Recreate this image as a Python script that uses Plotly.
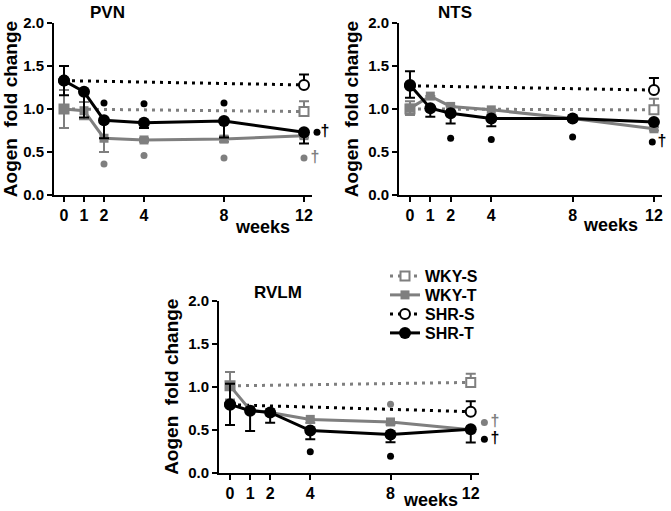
import plotly.graph_objects as go

weeks = [0, 1, 2, 4, 8, 12]
s_weeks = [0, 12]
x_ticks = [0, 1, 2, 4, 8, 12]
y_ticks = [0.0, 0.5, 1.0, 1.5, 2.0]
y_tick_labels = ["0.0", "0.5", "1.0", "1.5", "2.0"]
series_names = ["WKY-S", "WKY-T", "SHR-S", "SHR-T"]
panel_titles = ["PVN", "NTS", "RVLM"]

# PVN
pvn_wky_s = [1.0, 0.97]
pvn_wky_s_up = [0, 0.12]
pvn_shr_s = [1.33, 1.28]
pvn_shr_s_up = [0, 0.12]
pvn_wky_t = [1.0, 0.98, 0.66, 0.64, 0.65, 0.69]
pvn_wky_t_up = [0.22, 0.10, 0.0, 0.02, 0.03, 0.02]
pvn_wky_t_dn = [0.22, 0.10, 0.16, 0.02, 0.03, 0.02]
pvn_shr_t = [1.33, 1.20, 0.87, 0.84, 0.86, 0.73]
pvn_shr_t_up = [0.17, 0, 0, 0, 0, 0]
pvn_shr_t_dn = [0.17, 0.30, 0.21, 0.06, 0.19, 0.13]
pvn_black_dot_x = [2, 4, 8, 12.65]
pvn_black_dot_y = [1.07, 1.06, 1.07, 0.73]
pvn_gray_dot_x = [2, 4, 8, 12]
pvn_gray_dot_y = [0.36, 0.46, 0.43, 0.43]
pvn_black_dag = (13.05, 0.73)
pvn_gray_dag = (12.55, 0.43)

# NTS
nts_wky_s = [1.0, 0.99]
nts_wky_s_up = [0, 0.13]
nts_shr_s = [1.27, 1.22]
nts_shr_s_up = [0, 0.14]
nts_wky_t = [1.01, 1.15, 1.03, 0.99, 0.89, 0.77]
nts_wky_t_up = [0.08, 0, 0, 0, 0.02, 0.02]
nts_wky_t_dn = [0.08, 0, 0, 0, 0.02, 0.02]
nts_shr_t = [1.28, 1.01, 0.95, 0.89, 0.89, 0.85]
nts_shr_t_up = [0.16, 0, 0, 0, 0.02, 0.02]
nts_shr_t_dn = [0.15, 0.10, 0.12, 0.09, 0.02, 0.02]
nts_black_dot_x = [2, 4, 8, 11.92]
nts_black_dot_y = [0.66, 0.645, 0.675, 0.615]
nts_gray_dot_x = []
nts_gray_dot_y = []
nts_black_dag = (12.4, 0.615)
nts_gray_dag = None

# RVLM
rvlm_wky_s = [1.01, 1.05]
rvlm_wky_s_up = [0, 0.10]
rvlm_shr_s = [0.79, 0.71]
rvlm_shr_s_up = [0, 0.12]
rvlm_wky_t = [1.01, 0.73, 0.70, 0.62, 0.59, 0.50]
rvlm_wky_t_up = [0.16, 0, 0, 0, 0, 0]
rvlm_wky_t_dn = [0.16, 0, 0, 0.04, 0.03, 0]
rvlm_shr_t = [0.795, 0.72, 0.70, 0.49, 0.445, 0.505]
rvlm_shr_t_up = [0.24, 0, 0, 0, 0, 0]
rvlm_shr_t_dn = [0.24, 0.235, 0.12, 0.10, 0.09, 0.155]
rvlm_black_dot_x = [4, 8, 12.68]
rvlm_black_dot_y = [0.245, 0.19, 0.39]
rvlm_gray_dot_x = [8, 12.68]
rvlm_gray_dot_y = [0.795, 0.585]
rvlm_black_dag = (13.2, 0.39)
rvlm_gray_dag = (13.2, 0.585)

W, H = 671, 511
FONT = "Arial, Liberation Sans, sans-serif"
GRAY = "#7f7f7f"
BLACK = "#000000"

panels = [
    dict(name="PVN", axpx=54, ppw=20.0, xmin=-0.5, xmax=12.4, xext=13.6, ytop=23, ybot=195,
         wky_s=pvn_wky_s, wky_s_up=pvn_wky_s_up, shr_s=pvn_shr_s, shr_s_up=pvn_shr_s_up,
         wky_t=pvn_wky_t, wky_t_up=pvn_wky_t_up, wky_t_dn=pvn_wky_t_dn,
         shr_t=pvn_shr_t, shr_t_up=pvn_shr_t_up, shr_t_dn=pvn_shr_t_dn,
         bdx=pvn_black_dot_x, bdy=pvn_black_dot_y, gdx=pvn_gray_dot_x, gdy=pvn_gray_dot_y,
         bdag=pvn_black_dag, gdag=pvn_gray_dag,
         title_xy=(107, 12), weeks_xy=(262, 227)),
    dict(name="NTS", axpx=399, ppw=20.33, xmin=-0.54, xmax=12.4, xext=12.84, ytop=23, ybot=195,
         wky_s=nts_wky_s, wky_s_up=nts_wky_s_up, shr_s=nts_shr_s, shr_s_up=nts_shr_s_up,
         wky_t=nts_wky_t, wky_t_up=nts_wky_t_up, wky_t_dn=nts_wky_t_dn,
         shr_t=nts_shr_t, shr_t_up=nts_shr_t_up, shr_t_dn=nts_shr_t_dn,
         bdx=nts_black_dot_x, bdy=nts_black_dot_y, gdx=nts_gray_dot_x, gdy=nts_gray_dot_y,
         bdag=nts_black_dag, gdag=nts_gray_dag,
         title_xy=(455, 12), weeks_xy=(610, 225)),
    dict(name="RVLM", axpx=219, ppw=20.06, xmin=-0.55, xmax=12.4, xext=13.7, ytop=300.7, ybot=472.7,
         wky_s=rvlm_wky_s, wky_s_up=rvlm_wky_s_up, shr_s=rvlm_shr_s, shr_s_up=rvlm_shr_s_up,
         wky_t=rvlm_wky_t, wky_t_up=rvlm_wky_t_up, wky_t_dn=rvlm_wky_t_dn,
         shr_t=rvlm_shr_t, shr_t_up=rvlm_shr_t_up, shr_t_dn=rvlm_shr_t_dn,
         bdx=rvlm_black_dot_x, bdy=rvlm_black_dot_y, gdx=rvlm_gray_dot_x, gdy=rvlm_gray_dot_y,
         bdag=rvlm_black_dag, gdag=rvlm_gray_dag,
         title_xy=(278, 292), weeks_xy=(430, 500)),
]

# legend rows (one legend per series so the row spacing can match)
legend_ids = {"WKY-S": "legend", "WKY-T": "legend2", "SHR-S": "legend3", "SHR-T": "legend4"}
legend_rows_px = {"legend": 276, "legend2": 295, "legend3": 314, "legend4": 333}

fig = go.Figure()
annotations = []
DOT = "3px,5px"
layout_axes = {}

for i, p in enumerate(panels):
    n = "" if i == 0 else str(i + 1)
    ne = str(i + 4)
    xa, ya, xe = "x" + n, "y" + n, "x" + ne
    show = (i == 2)
    # WKY-S
    fig.add_trace(go.Scatter(
        x=s_weeks, y=p["wky_s"], xaxis=xa, yaxis=ya, name="WKY-S", legend=legend_ids["WKY-S"],
        showlegend=show, mode="lines+markers", cliponaxis=False,
        line=dict(color=GRAY, width=3, dash=DOT),
        marker=dict(symbol="square", size=9, color="white", line=dict(width=2, color=GRAY)),
        error_y=dict(type="data", symmetric=False, array=p["wky_s_up"],
                     arrayminus=[0, 0], color=GRAY, thickness=2, width=5)))
    # SHR-S
    fig.add_trace(go.Scatter(
        x=s_weeks, y=p["shr_s"], xaxis=xa, yaxis=ya, name="SHR-S", legend=legend_ids["SHR-S"],
        showlegend=show, mode="lines+markers", cliponaxis=False,
        line=dict(color=BLACK, width=3, dash=DOT),
        marker=dict(symbol="circle", size=10, color="white", line=dict(width=2, color=BLACK)),
        error_y=dict(type="data", symmetric=False, array=p["shr_s_up"],
                     arrayminus=[0, 0], color=BLACK, thickness=2, width=5)))
    # WKY-T
    fig.add_trace(go.Scatter(
        x=weeks, y=p["wky_t"], xaxis=xa, yaxis=ya, name="WKY-T", legend=legend_ids["WKY-T"],
        showlegend=show, mode="lines+markers", cliponaxis=False,
        line=dict(color=GRAY, width=3),
        marker=dict(symbol="square", size=9, color=GRAY),
        error_y=dict(type="data", symmetric=False, array=p["wky_t_up"],
                     arrayminus=p["wky_t_dn"], color=GRAY, thickness=2, width=5)))
    # SHR-T
    fig.add_trace(go.Scatter(
        x=weeks, y=p["shr_t"], xaxis=xa, yaxis=ya, name="SHR-T", legend=legend_ids["SHR-T"],
        showlegend=show, mode="lines+markers", cliponaxis=False,
        line=dict(color=BLACK, width=3),
        marker=dict(symbol="circle", size=12, color=BLACK),
        error_y=dict(type="data", symmetric=False, array=p["shr_t_up"],
                     arrayminus=p["shr_t_dn"], color=BLACK, thickness=2, width=5)))
    # significance marks on a hidden, wider x axis with the same scale
    if p["gdx"]:
        fig.add_trace(go.Scatter(
            x=p["gdx"], y=p["gdy"], xaxis=xe, yaxis=ya, mode="markers", showlegend=False,
            cliponaxis=False, marker=dict(symbol="circle", size=7, color=GRAY,
                                          line=dict(width=0))))
    fig.add_trace(go.Scatter(
        x=p["bdx"], y=p["bdy"], xaxis=xe, yaxis=ya, mode="markers", showlegend=False,
        cliponaxis=False, marker=dict(symbol="circle", size=7, color=BLACK, line=dict(width=0))))
    for dag, col in ((p["bdag"], BLACK), (p["gdag"], GRAY)):
        if dag is not None:
            fig.add_trace(go.Scatter(
                x=[dag[0]], y=[dag[1]], xaxis=xe, yaxis=ya, mode="text", text=["<b>†</b>"],
                showlegend=False, cliponaxis=False,
                textfont=dict(family=FONT, size=16, color=col)))

    x0 = p["axpx"] / W
    x1 = (p["axpx"] + (p["xmax"] - p["xmin"]) * p["ppw"]) / W
    x1e = min(1.0, (p["axpx"] + (p["xext"] - p["xmin"]) * p["ppw"]) / W)
    yd = [1 - p["ybot"] / H, 1 - p["ytop"] / H]

    axcommon = dict(showgrid=False, zeroline=False, showline=True, linecolor=BLACK,
                    linewidth=2, ticks="outside", tickwidth=2, ticklen=5, tickcolor=BLACK,
                    automargin=False)
    layout_axes["xaxis" + n] = dict(domain=[x0, x1], range=[p["xmin"], p["xmax"]], anchor=ya,
                                    tickmode="array", tickvals=x_ticks,
                                    ticktext=[str(t) for t in x_ticks],
                                    tickfont=dict(family=FONT, size=16, color=BLACK, weight="bold"),
                                    **axcommon)
    layout_axes["yaxis" + n] = dict(domain=yd, range=[0, 2], anchor=xa,
                                    tickmode="array", tickvals=y_ticks, ticktext=y_tick_labels,
                                    tickfont=dict(family=FONT, size=15, color=BLACK, weight="bold"),
                                    title=dict(text="<b>Aogen\u00a0 fold change</b>", standoff=4,
                                               font=dict(family=FONT, size=19, color=BLACK)),
                                    **axcommon)
    layout_axes["xaxis" + ne] = dict(domain=[x0, x1e], range=[p["xmin"], p["xext"]], anchor=ya,
                                     visible=False, showgrid=False, zeroline=False)
    annotations.append(dict(text="<b>%s</b>" % p["name"], xref="paper", yref="paper",
                            x=p["title_xy"][0] / W, y=1 - p["title_xy"][1] / H,
                            xanchor="center", yanchor="middle", showarrow=False,
                            font=dict(family=FONT, size=17, color=BLACK)))
    annotations.append(dict(text="<b>weeks</b>", xref="paper", yref="paper",
                            x=p["weeks_xy"][0] / W, y=1 - p["weeks_xy"][1] / H,
                            xanchor="center", yanchor="middle", showarrow=False,
                            font=dict(family=FONT, size=18, color=BLACK)))

legends = {}
for lid, ypx in legend_rows_px.items():
    legends[lid] = dict(x=385 / W, y=1 - ypx / H, xanchor="left", yanchor="middle",
                        bgcolor="rgba(0,0,0,0)", itemwidth=30,
                        font=dict(family=FONT, size=16, color=BLACK, weight="bold"))

fig.update_layout(**layout_axes)
fig.update_layout(**legends)
fig.update_layout(
    width=W, height=H, margin=dict(l=0, r=0, t=0, b=0, autoexpand=False),
    paper_bgcolor="white", plot_bgcolor="rgba(0,0,0,0)",
    annotations=annotations,
    font=dict(family=FONT, color=BLACK),
    hovermode=False,
)

fig.write_html("out.html", config={"displayModeBar": False},
               post_script="document.body.style.margin='0';")
